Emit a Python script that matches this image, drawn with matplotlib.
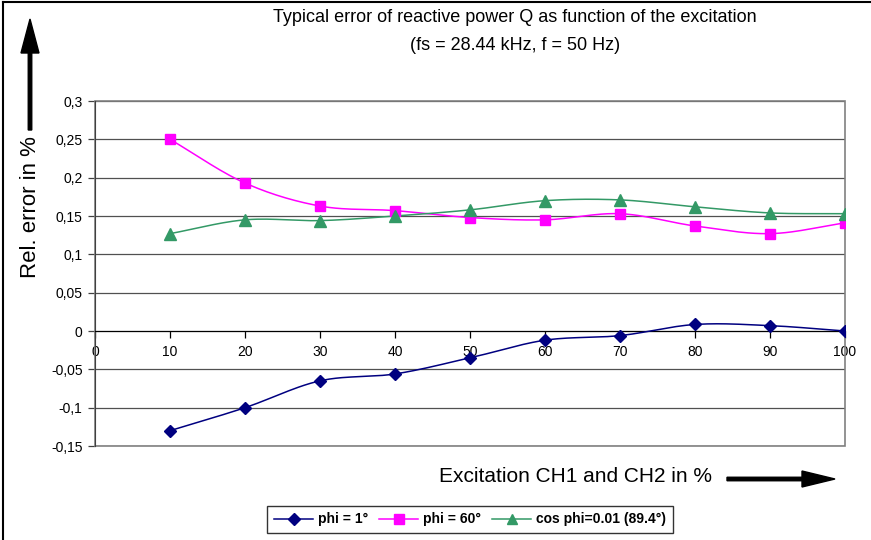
import numpy as np
import matplotlib
matplotlib.use("Agg")
import matplotlib.pyplot as plt
from matplotlib.patches import FancyArrow, Rectangle
from matplotlib.lines import Line2D
from matplotlib.transforms import IdentityTransform
from matplotlib.ticker import FuncFormatter

plt.rcParams['font.family'] = ['Liberation Sans', 'DejaVu Sans']

# measured relative error of Q in % per excitation step
excitation = [10, 20, 30, 40, 50, 60, 70, 80, 90, 100]
err_phi_1 = [-0.13, -0.10, -0.065, -0.056, -0.035, -0.012, -0.006, 0.0085, 0.007, 0.0]
err_phi_60 = [0.25, 0.193, 0.163, 0.157, 0.148, 0.145, 0.153, 0.137, 0.127, 0.141]
err_cos_001 = [0.127, 0.145, 0.144, 0.150, 0.158, 0.170, 0.171, 0.162, 0.154, 0.153]

series_labels = ["phi = 1°", "phi = 60°", "cos phi=0.01 (89.4°)"]
y_ticks = [-0.15, -0.1, -0.05, 0, 0.05, 0.1, 0.15, 0.2, 0.25, 0.3]
x_ticks = [0, 10, 20, 30, 40, 50, 60, 70, 80, 90, 100]


def smooth(x, y, n=24):
    # Catmull-Rom curve through the points, like a spreadsheet "smoothed line"
    x = np.asarray(x, float)
    y = np.asarray(y, float)
    px = np.concatenate([[2 * x[0] - x[1]], x, [2 * x[-1] - x[-2]]])
    py = np.concatenate([[2 * y[0] - y[1]], y, [2 * y[-1] - y[-2]]])
    t = np.linspace(0, 1, n, endpoint=False)
    xs, ys = [], []
    for i in range(1, len(px) - 2):
        for p, out in ((px, xs), (py, ys)):
            p0, p1, p2, p3 = p[i - 1], p[i], p[i + 1], p[i + 2]
            out.extend(0.5 * (2 * p1 + (-p0 + p2) * t
                              + (2 * p0 - 5 * p1 + 4 * p2 - p3) * t ** 2
                              + (-p0 + 3 * p1 - 3 * p2 + p3) * t ** 3))
    xs.append(x[-1])
    ys.append(y[-1])
    return np.array(xs), np.array(ys)


fig = plt.figure(figsize=(8.71, 5.40), dpi=100)
ax = fig.add_axes([95 / 871, 1 - 446 / 540, 750 / 871, 345 / 540])

styles = [
    dict(color="#000080", marker="D", ms=6.5),
    dict(color="#FF00FF", marker="s", ms=7.5),
    dict(color="#339966", marker="^", ms=8),
]
for vals, lab, st in zip([err_phi_1, err_phi_60, err_cos_001], series_labels, styles):
    sx, sy = smooth(excitation, vals)
    ax.plot(sx, sy, color=st["color"], lw=1.1, zorder=3)
    ax.plot(excitation, vals, ls="none", marker=st["marker"], ms=st["ms"],
            color=st["color"], zorder=4)
    # proxy for the legend entry
    ax.plot([], [], color=st["color"], lw=1.1, marker=st["marker"],
            ms=st["ms"] - 0.5, label=lab)

ax.set_xlim(0, 100)
ax.set_ylim(-0.15, 0.3)
ax.set_xticks(x_ticks)
ax.set_yticks(y_ticks)
ax.yaxis.set_major_formatter(FuncFormatter(
    lambda v, _: ("%g" % round(v, 2)).replace(".", ",")))
ax.grid(axis="y", color="#505050", lw=0.9, zorder=1)

for side in ("top", "right"):
    ax.spines[side].set_visible(False)
ax.spines["left"].set_color("#404040")
ax.spines["bottom"].set_position(("data", 0))
ax.spines["bottom"].set_color("black")
ax.add_patch(Rectangle((0, 0), 1, 1, transform=ax.transAxes, fill=False,
                       ec="#808080", lw=1.2, zorder=2, clip_on=False))

ax.tick_params(axis="y", direction="out", length=5, width=0.9,
               color="#404040", labelsize=10, pad=4)
ax.tick_params(axis="x", direction="out", length=5, width=0.9,
               labelsize=10, pad=5)

# title, axis labels and arrows placed in figure pixels
fig.text(515 / 871, 1 - 17 / 540,
         "Typical error of reactive power Q as function of the excitation",
         ha="center", va="center", fontsize=13)
fig.text(515 / 871, 1 - 45 / 540, "(fs = 28.44 kHz, f = 50 Hz)",
         ha="center", va="center", fontsize=13)
fig.text(31 / 871, 1 - 207 / 540, "Rel. error in %", rotation=90,
         ha="center", va="center", fontsize=16)
fig.text(575 / 871, 1 - 476 / 540, "Excitation CH1 and CH2 in %",
         ha="center", va="center", fontsize=15)

fig.add_artist(FancyArrow(30, 540 - 130, 0, 111, width=3.5, head_width=18,
                          head_length=34, length_includes_head=True,
                          transform=IdentityTransform(), color="black"))
fig.add_artist(FancyArrow(727, 540 - 479, 108, 0, width=3.5, head_width=16,
                          head_length=33, length_includes_head=True,
                          transform=IdentityTransform(), color="black"))

# outer chart frame
fig.add_artist(Line2D([3, 3], [0, 538], transform=IdentityTransform(),
                      color="black", lw=1.5))
fig.add_artist(Line2D([3, 871], [538, 538], transform=IdentityTransform(),
                      color="black", lw=1.5))

leg = fig.legend(loc="center", bbox_to_anchor=(470 / 871, 1 - 519.5 / 540),
                 ncol=3, frameon=True, fancybox=False, edgecolor="black",
                 prop=dict(size=10, weight="bold"), handlelength=2.8,
                 handletextpad=0.35, columnspacing=0.8, borderpad=0.5)
leg.get_frame().set_linewidth(1.0)

fig.savefig("out.png", dpi=100)
